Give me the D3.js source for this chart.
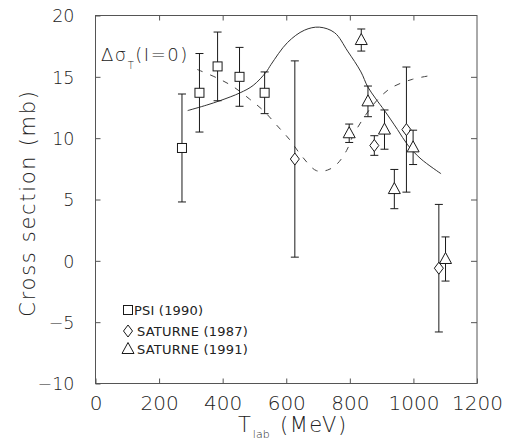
<!DOCTYPE html>
<html><head><meta charset="utf-8">
<script src="https://cdn.jsdelivr.net/npm/d3@7/dist/d3.min.js"></script>
<style>body{margin:0;background:#fff}svg{display:block}</style>
</head><body><svg id="c" width="508" height="441"></svg>
<script>
// ---- data ----
const xTicks = [0, 200, 400, 600, 800, 1000, 1200];
const yTicks = [-10, -5, 0, 5, 10, 15, 20];
const psiX = [272, 327, 384, 453, 532];
const psiY = [9.2, 13.7, 15.85, 15.0, 13.7];
const psiErr = [4.4, 3.2, 2.8, 2.4, 1.7];
const sat87X = [627, 877, 978, 1080];
const sat87Y = [8.3, 9.4, 10.7, -0.6];
const sat87Err = [8.0, 0.8, 5.1, 5.2];
const sat91X = [798, 836, 857, 909, 940, 999, 1101];
const sat91Y = [10.4, 18.0, 13.0, 10.7, 5.85, 9.25, 0.15];
const sat91Err = [0.75, 0.9, 1.25, 1.6, 1.6, 1.4, 1.8];
const solidX = [290, 350, 392, 455, 496, 537, 552, 604, 657, 704, 752, 793, 835, 856, 882, 909, 950, 982, 1024, 1087];
const solidY = [12.25, 12.7, 13.06, 13.7, 14.3, 15.4, 16.0, 17.8, 18.8, 19.05, 18.6, 17.1, 15.4, 14.2, 13.2, 12.25, 10.7, 9.45, 8.3, 7.1];
const dashX = [320, 383, 433, 484, 530, 572, 610, 650, 695, 730, 760, 790, 810, 850, 886, 930, 997, 1054];
const dashY = [15.6, 14.9, 14.2, 13.2, 12.2, 11.0, 9.9, 8.5, 7.35, 7.4, 7.9, 9.0, 10.2, 11.9, 13.1, 14.1, 14.8, 15.1];
const legendLabels = ["PSI (1990)", "SATURNE (1987)", "SATURNE (1991)"];

// ---- layout ----
const svg = d3.select("#c");
const L = 95.5, R = 477, T = 15.5, B = 383.5;
const x = d3.scaleLinear().domain([0, 1200]).range([L, R]);
const y = d3.scaleLinear().domain([-10, 20]).range([B, T]);
const ink = "#1a1a1a", frame = "#555";

// frame
svg.append("rect").attr("x", L).attr("y", T).attr("width", R - L).attr("height", B - T)
  .attr("fill", "none").attr("stroke", frame).attr("stroke-width", 1);

// axes with inward ticks
const font = "'DejaVu Sans', sans-serif";
const gx = svg.append("g").attr("transform", `translate(0,${B})`)
  .call(d3.axisBottom(x).tickValues(xTicks).tickSize(-5).tickPadding(12).tickFormat(d3.format("d")));
const gxt = svg.append("g").attr("transform", `translate(0,${T})`)
  .call(d3.axisTop(x).tickValues(xTicks.slice(1, -1)).tickSize(-5).tickFormat(""));
const gy = svg.append("g").attr("transform", `translate(${L},0)`)
  .call(d3.axisLeft(y).tickValues(yTicks).tickSize(-5).tickPadding(21)
    .tickFormat(d => d < 0 ? "\u2212" + Math.abs(d) : d));
const gyr = svg.append("g").attr("transform", `translate(${R},0)`)
  .call(d3.axisRight(y).tickValues(yTicks.slice(1, -1)).tickSize(-6).tickFormat(""));
[gx, gxt, gy, gyr].forEach(g => {
  g.select(".domain").remove();
  g.selectAll(".tick line").attr("stroke", frame);
  g.selectAll("text").attr("fill", "#222").attr("font-family", font).attr("font-weight", 200);
});
gx.selectAll("text").attr("font-size", 20).attr("dy", "0.71em");
gy.selectAll("text").attr("font-size", 17.5).attr("dy", "0.36em");

// axis titles
svg.append("text").attr("transform", "translate(35,203) rotate(-90)")
  .attr("text-anchor", "middle").attr("font-family", font).attr("font-size", 21).attr("fill", "#222")
  .attr("font-weight", 200).attr("letter-spacing", 1.7).text("Cross section (mb)");
const xt = svg.append("text").attr("x", 238).attr("y", 432).attr("font-family", font)
  .attr("font-size", 21).attr("fill", "#222").attr("font-weight", 200);
xt.append("tspan").text("T");
xt.append("tspan").attr("font-size", 11).attr("dx", 2).attr("dy", 6).text("lab");
svg.append("text").attr("x", 280).attr("y", 432).attr("font-family", font)
  .attr("font-size", 21).attr("fill", "#222").attr("font-weight", 200).attr("letter-spacing", 1.5).text("(MeV)");

// annotation
const an = svg.append("text").attr("x", 101).attr("y", 61).attr("font-family", font)
  .attr("font-size", 18).attr("fill", "#222").attr("font-weight", 200).attr("letter-spacing", 1.5);
an.append("tspan").text("\u0394\u03c3");
an.append("tspan").attr("font-size", 10).attr("dy", 8).text("T");
an.append("tspan").attr("dy", -8).text("(I=0)");

// curves
const lineGen = d3.line().x(d => x(d[0])).y(d => y(d[1])).curve(d3.curveCatmullRom.alpha(0.5));
svg.append("path").datum(d3.zip(solidX, solidY)).attr("d", lineGen)
  .attr("fill", "none").attr("stroke", "#333").attr("stroke-width", 1);
svg.append("path").datum(d3.zip(dashX, dashY)).attr("d", lineGen)
  .attr("fill", "none").attr("stroke", "#444").attr("stroke-width", 1).attr("stroke-dasharray", "6,8");

// markers
const shapes = {
  square: (g) => g.append("rect").attr("x", -4.5).attr("y", -4.5).attr("width", 9).attr("height", 9),
  diamond: (g) => g.append("path").attr("d", "M0,-6L4.5,0L0,6L-4.5,0Z"),
  triangle: (g) => g.append("path").attr("d", "M0,-6.5L6,4.5L-6,4.5Z")
};
function series(xs, ys, es, shape) {
  xs.forEach((xv, i) => {
    const cx = x(xv), cy = y(ys[i]), y1 = y(ys[i] + es[i]), y2 = y(ys[i] - es[i]);
    const g = svg.append("g").attr("stroke", ink).attr("stroke-width", 1);
    g.append("line").attr("x1", cx).attr("x2", cx).attr("y1", y1).attr("y2", y2);
    g.append("line").attr("x1", cx - 4).attr("x2", cx + 4).attr("y1", y1).attr("y2", y1);
    g.append("line").attr("x1", cx - 4).attr("x2", cx + 4).attr("y1", y2).attr("y2", y2);
    const m = svg.append("g").attr("transform", `translate(${cx},${cy})`);
    shapes[shape](m).attr("fill", "#fff").attr("stroke", ink).attr("stroke-width", 1);
  });
}
series(psiX, psiY, psiErr, "square");
series(sat87X, sat87Y, sat87Err, "diamond");
series(sat91X, sat91Y, sat91Err, "triangle");

// legend
const legShapes = ["square", "diamond", "triangle"];
const legY = [310, 331, 349];
const legTextX = [134, 137, 137];
legendLabels.forEach((t, i) => {
  const m = svg.append("g").attr("transform", `translate(128,${legY[i]})`);
  shapes[legShapes[i]](m).attr("fill", "#fff").attr("stroke", ink).attr("stroke-width", 1);
  svg.append("text").attr("x", legTextX[i]).attr("y", legY[i] + 5).attr("font-family", font)
    .attr("font-size", 13).attr("fill", "#222").attr("letter-spacing", 0.2).text(t);
});
</script></body></html>
